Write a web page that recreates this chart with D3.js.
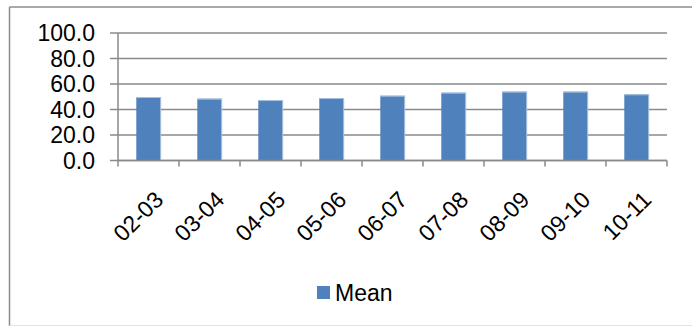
<!DOCTYPE html>
<html><head><meta charset="utf-8">
<script src="https://cdn.jsdelivr.net/npm/d3@7"></script>
<style>body{margin:0;background:#fff}svg{display:block}text{font-family:"Liberation Sans",Arial,sans-serif;fill:#000}</style>
</head><body><svg id="c" width="692" height="327"></svg>
<script>
const categories = ["02-03","03-04","04-05","05-06","06-07","07-08","08-09","09-10","10-11"];
const meanValues = [49.8, 48.5, 47.4, 49.0, 50.8, 53.2, 54.0, 54.0, 51.9];
const yTicks = [0, 20, 40, 60, 80, 100];
const seriesName = "Mean";

const svg = d3.select("#c");
// outer frame
svg.append("line").attr("x1",9.5).attr("x2",692).attr("y1",7).attr("y2",7).attr("stroke","#8c8c8c").attr("stroke-width",1.5);
svg.append("line").attr("x1",9.5).attr("x2",9.5).attr("y1",7).attr("y2",326).attr("stroke","#8c8c8c").attr("stroke-width",1.5);
svg.append("line").attr("x1",9.5).attr("x2",692).attr("y1",325.5).attr("y2",325.5).attr("stroke","#e3e3e3").attr("stroke-width",1);

const L = 118, R = 667, T = 33, B = 160.5;
const xb = d3.scaleBand().domain(categories).range([L, R]);
const y = d3.scaleLinear().domain([0, 100]).range([B, T]);
const FS = 23;

const grid = "#8a8a8a";
// gridlines + y ticks
svg.append("g").selectAll("line").data(yTicks).join("line")
  .attr("x1", L - 8).attr("x2", R).attr("y1", d => y(d)).attr("y2", d => y(d))
  .attr("stroke", grid).attr("stroke-width", 1.5);
svg.append("g").selectAll("text").data(yTicks).join("text")
  .attr("x", 95).attr("y", d => y(d) + 8.3).attr("text-anchor", "end")
  .attr("font-size", FS).text(d => d.toFixed(1));
// y axis line
svg.append("line").attr("x1", L).attr("x2", L).attr("y1", T).attr("y2", B).attr("stroke", grid).attr("stroke-width", 1.5);

// bars
const bw = xb.bandwidth() / 2.5;
const bars = svg.append("g").selectAll("g").data(categories).join("g");
bars.append("rect")
  .attr("x", d => xb(d) + (xb.bandwidth() - bw) / 2).attr("width", bw)
  .attr("y", (d, i) => y(meanValues[i])).attr("height", (d, i) => B - y(meanValues[i]))
  .attr("fill", "#4F81BD");
bars.append("line")
  .attr("x1", d => xb(d) + (xb.bandwidth() + bw) / 2).attr("x2", d => xb(d) + (xb.bandwidth() + bw) / 2)
  .attr("y1", (d, i) => y(meanValues[i])).attr("y2", B)
  .attr("stroke", "#a9c1e0").attr("stroke-width", 1);
bars.append("line")
  .attr("x1", d => xb(d) + (xb.bandwidth() - bw) / 2).attr("x2", d => xb(d) + (xb.bandwidth() + bw) / 2)
  .attr("y1", (d, i) => y(meanValues[i]) + 0.5).attr("y2", (d, i) => y(meanValues[i]) + 0.5)
  .attr("stroke", "#a9c1e0").attr("stroke-width", 1);

// x axis line + ticks
svg.append("line").attr("x1", L).attr("x2", R).attr("y1", B).attr("y2", B).attr("stroke", grid).attr("stroke-width", 1.5);
const tickPos = categories.map(c => xb(c)).concat([R]);
svg.append("g").selectAll("line").data(tickPos).join("line")
  .attr("x1", d => d).attr("x2", d => d).attr("y1", B).attr("y2", B + 6)
  .attr("stroke", grid).attr("stroke-width", 1.5);

// x labels rotated
svg.append("g").selectAll("text").data(categories).join("text")
  .attr("transform", d => `translate(${xb(d) + xb.bandwidth() / 2 + 4},${189}) rotate(-45)`)
  .attr("text-anchor", "end").attr("dy", "0.75em")
  .attr("font-size", FS).text(d => d);

// legend
svg.append("rect").attr("x", 317).attr("y", 286).attr("width", 13).attr("height", 13).attr("fill", "#4F81BD");
svg.append("text").attr("x", 335).attr("y", 301).attr("font-size", FS).text(seriesName);
</script></body></html>
